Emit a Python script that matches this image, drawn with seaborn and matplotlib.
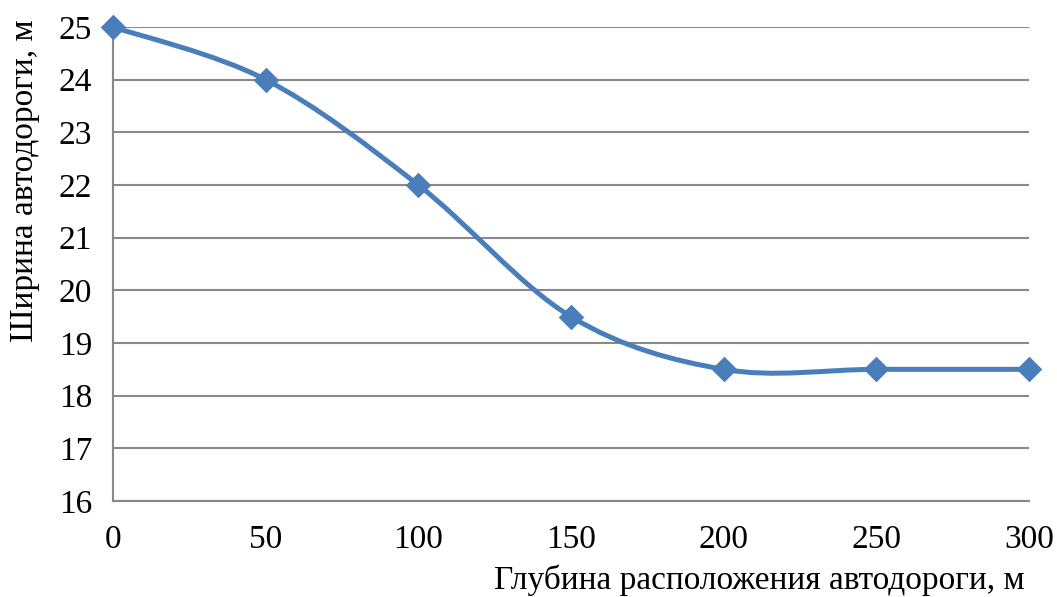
import numpy as np
import pandas as pd
import matplotlib
matplotlib.use("Agg")
import matplotlib.pyplot as plt
from matplotlib.path import Path
from matplotlib.patches import PathPatch
import seaborn as sns

depth = [0, 50, 100, 150, 200, 250, 300]
width = [25, 24, 22, 19.5, 18.5, 18.5, 18.5]
x_ticks = [0, 50, 100, 150, 200, 250, 300]
y_ticks = [16, 17, 18, 19, 20, 21, 22, 23, 24, 25]
x_label = "Глубина расположения автодороги, м"
y_label = "Ширина автодороги, м"

sns.set_theme(style="white")
plt.rcParams['font.family'] = ['Liberation Serif', 'DejaVu Serif']

LINE = "#4A7EBB"
GRID = "#898989"
FS = 24

fig = plt.figure(figsize=(10.57, 5.97), dpi=100)
ax = fig.add_axes([0.1069, 0.1608, 0.8666, 0.794])

df = pd.DataFrame({"x": depth, "y": width})

# smoothed line (Catmull-Rom as Bezier segments) built from the data
pts = np.column_stack([depth, width]).astype(float)
verts = [pts[0]]
codes = [Path.MOVETO]
n = len(pts)
for i in range(n - 1):
    p0 = pts[i - 1] if i > 0 else pts[i]
    p1 = pts[i]
    p2 = pts[i + 1]
    p3 = pts[i + 2] if i + 2 < n else pts[i + 1]
    c1 = p1 + (p2 - p0) / 6.0
    c2 = p2 - (p3 - p1) / 6.0
    verts += [c1, c2, p2]
    codes += [Path.CURVE4] * 3
patch = PathPatch(Path(verts, codes), facecolor="none", edgecolor=LINE,
                  lw=3.6, capstyle="round", joinstyle="round", zorder=3)
patch.set_clip_on(False)
ax.add_patch(patch)

sns.scatterplot(data=df, x="x", y="y", marker="D", s=170, color=LINE,
                edgecolor=LINE, linewidth=0, ax=ax, zorder=4, clip_on=False)

ax.set_xlim(0, 300)
ax.set_ylim(16, 25)
ax.set_xticks(x_ticks)
ax.set_yticks(y_ticks)
ax.yaxis.grid(True, color=GRID, lw=1.5)
ax.xaxis.grid(False)
ax.set_axisbelow(True)
for s in ["top", "right"]:
    ax.spines[s].set_visible(False)
for s in ["left", "bottom"]:
    ax.spines[s].set_color(GRID)
    ax.spines[s].set_linewidth(1.5)
ax.tick_params(axis="both", which="major", direction="out", length=7,
               width=1.5, color=GRID, labelsize=FS, labelcolor="black")
ax.tick_params(axis="x", pad=10)
ax.tick_params(axis="y", pad=8)

ax.set_xlabel(x_label, fontsize=FS, color="black", loc="right")
ax.xaxis.label.set_horizontalalignment("right")
ax.xaxis.label.set_verticalalignment("center")
ax.xaxis.set_label_coords(0.9956, -0.167)
ax.set_ylabel(y_label, fontsize=FS, color="black", loc="top")
ax.yaxis.label.set_verticalalignment("center")
ax.yaxis.set_label_coords(-0.096, 1.015)

fig.savefig("out.png", dpi=100)
